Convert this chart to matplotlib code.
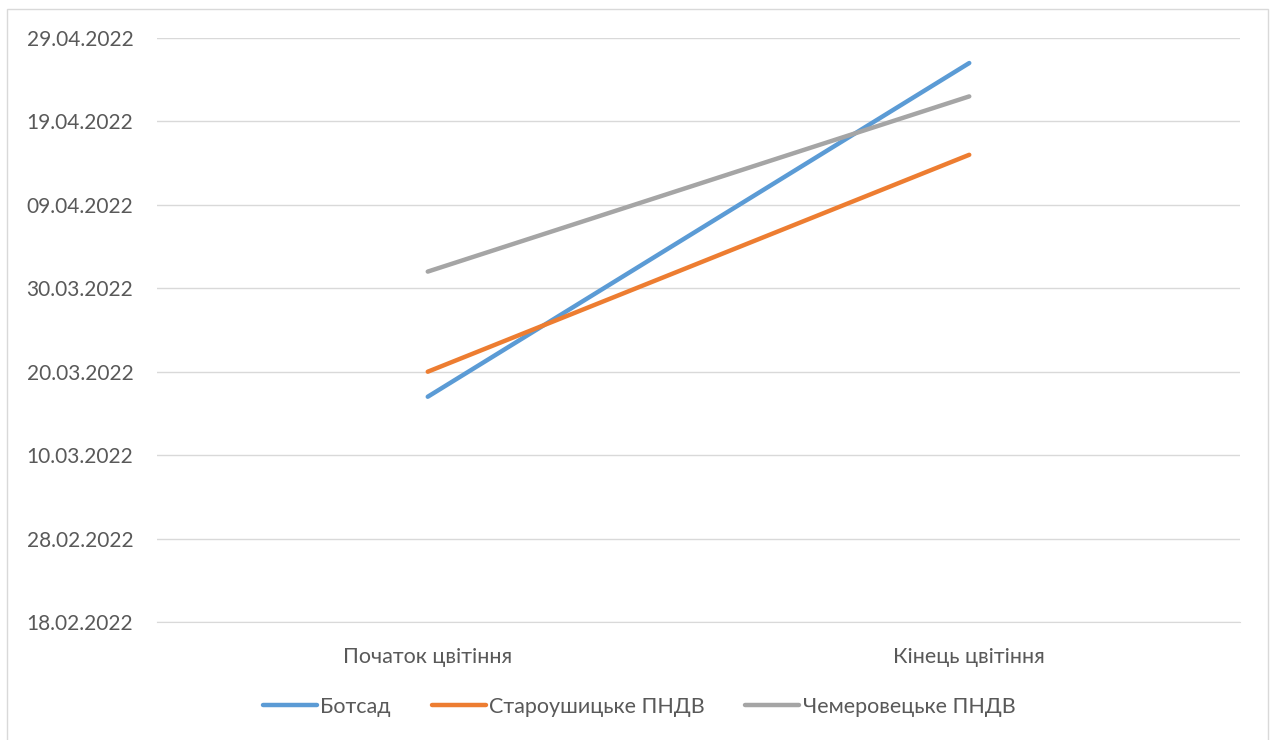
import datetime as dt
import matplotlib
matplotlib.use("Agg")
import matplotlib.pyplot as plt
import matplotlib.dates as mdates
from matplotlib.patches import Rectangle

plt.rcParams['font.family'] = ['Lato', 'DejaVu Sans']

categories = ["Початок цвітіння", "Кінець цвітіння"]
series_names = ["Ботсад", "Староушицьке ПНДВ", "Чемеровецьке ПНДВ"]
botsad = ["17.03.2022", "26.04.2022"]
staroushytske = ["20.03.2022", "15.04.2022"]
chemerovetske = ["01.04.2022", "22.04.2022"]
colors = ["#5B9BD5", "#ED7D31", "#A5A5A5"]
tick_dates = ["18.02.2022", "28.02.2022", "10.03.2022", "20.03.2022",
              "30.03.2022", "09.04.2022", "19.04.2022", "29.04.2022"]

def to_num(s):
    return mdates.date2num(dt.datetime.strptime(s, "%d.%m.%Y"))

fig = plt.figure(figsize=(12.71, 7.40), dpi=100)
ax = fig.add_axes([157 / 1271, 1 - 622 / 740, (1240 - 157) / 1271, (622 - 38) / 740])

x = list(range(len(categories)))
for name, vals, c in zip(series_names, [botsad, staroushytske, chemerovetske], colors):
    ax.plot(x, [to_num(v) for v in vals], color=c, lw=3.2, label=name,
            solid_capstyle='round', zorder=3)

ticks = [to_num(t) for t in tick_dates]
ax.set_yticks(ticks)
ax.set_yticklabels(tick_dates)
ax.set_ylim(ticks[0], ticks[-1])
ax.set_xlim(-0.5, 1.5)
ax.set_xticks(x)
ax.set_xticklabels(categories)

ax.grid(axis='y', color='#D9D9D9', lw=1.0)
ax.set_axisbelow(True)
for s in ax.spines.values():
    s.set_visible(False)
ax.spines['bottom'].set_visible(True)
ax.spines['bottom'].set_color('#D9D9D9')
ax.tick_params(axis='both', length=0, colors='#595959')
ax.tick_params(axis='y', pad=17, labelsize=15)
ax.tick_params(axis='x', pad=18, labelsize=15.5)

leg = fig.legend(loc='center', bbox_to_anchor=(0.503, 1 - 707 / 740), ncol=3,
                 frameon=False, fontsize=15.5, handlelength=2.5, handletextpad=0.15,
                 columnspacing=1.9, labelcolor='#595959')

fig.patches.append(Rectangle((7 / 1271, -0.01), (1268 - 7) / 1271, 1 - 9 / 740 + 0.01,
                             transform=fig.transFigure, fill=False,
                             edgecolor='#D9D9D9', lw=1.0))

fig.savefig("out.png", dpi=100, facecolor='white')
